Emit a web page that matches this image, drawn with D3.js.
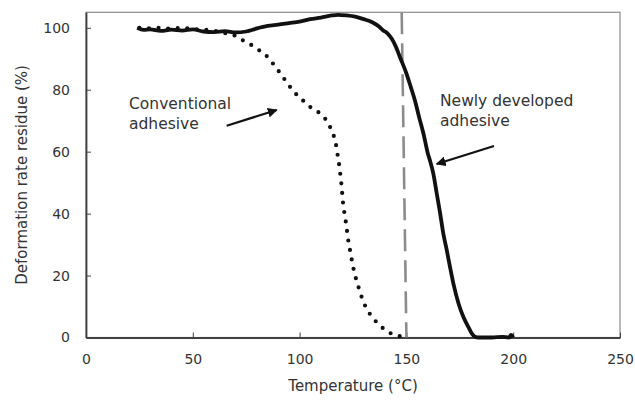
<!DOCTYPE html>
<html>
<head>
<meta charset="utf-8">
<script src="https://cdn.jsdelivr.net/npm/d3@7"></script>
<style>
  body { margin: 0; background: #fff; }
  text { font-family: "DejaVu Sans", Verdana, sans-serif; fill: #333; }
</style>
</head>
<body>
<div id="chart"></div>
<script>
// Newly developed adhesive (solid)
const newTemp = [24, 27, 30, 35, 40, 45, 50, 55, 60, 65, 70, 75, 80, 85, 90, 95, 100, 105, 110, 115, 118, 122, 126, 130, 134, 137, 139, 141, 143, 145, 147, 150, 152, 154, 156, 158, 160, 161, 162.6, 164.2, 165.7, 167.3, 168.9, 170.4, 172, 174.4, 176.7, 179, 181.3, 183.5, 190, 195, 198, 199, 200];
const newVal  = [100, 99.3, 99.5, 99, 99.4, 99.1, 99.5, 98.8, 98.6, 98.9, 98.5, 98.8, 99.8, 100.6, 101, 101.5, 102, 102.8, 103.3, 104, 104.2, 104, 103.6, 102.8, 101.8, 100.5, 99.2, 98.3, 96.6, 94, 90.5, 85.3, 81, 76.5, 71, 65.8, 59.5, 57.2, 52.9, 46.5, 40.5, 33.5, 28.2, 22.8, 17.4, 11, 6.6, 3.4, 0.7, 0, 0, 0.2, 0, 0.8, 0];

// Conventional adhesive (dotted)
const convTemp = [25, 30, 35, 40, 45, 50, 55, 60, 65, 69, 73, 77, 80.7, 84, 87, 89.7, 92.4, 95, 97.8, 101, 104.6, 108.3, 111.6, 114, 115.8, 117, 117.7, 118.4, 119, 119.5, 119.9, 120.3, 120.9, 121.6, 122.2, 122.8, 123.6, 124.4, 125.3, 126.4, 127.7, 129.1, 130.8, 133.1, 136.1, 139.2, 142.8, 147];
const convVal  = [100, 99.8, 100, 99.7, 100, 99.6, 99.4, 99, 98.3, 97.7, 96.1, 94.6, 92.9, 91.3, 88.9, 86.5, 83.9, 81.4, 79, 76.9, 74.6, 73, 71, 68.3, 65.5, 62.4, 59.4, 56.3, 53.1, 50, 46.9, 43.7, 40.6, 37.5, 34.4, 31.3, 28.2, 25.2, 22, 19, 16, 13, 10.1, 7.4, 4.9, 2.9, 1.3, 0.4];

// reference line at 150 °C (slightly slanted in the source)
const refTemp = [147.8, 150];
const refVal = [105, 0];

const xTicks = [0, 50, 100, 150, 200, 250];
const yTicks = [0, 20, 40, 60, 80, 100];

const width = 635, height = 401;
const margin = { top: 12.3, right: 15, bottom: 63.5, left: 86 };

const svg = d3.select("#chart").append("svg")
  .attr("width", width)
  .attr("height", height);

const x = d3.scaleLinear().domain([0, 250]).range([margin.left, width - margin.right]);
const y = d3.scaleLinear().domain([0, 105]).range([height - margin.bottom, margin.top]);

// frame (top/right lighter)
svg.append("rect")
  .attr("x", x(0)).attr("y", y(105))
  .attr("width", x(250) - x(0)).attr("height", y(0) - y(105))
  .attr("fill", "none").attr("stroke", "#8a8a8a").attr("stroke-width", 1.2);

// axes
const xAxis = svg.append("g")
  .attr("transform", `translate(0,${y(0)})`)
  .call(d3.axisBottom(x).tickValues(xTicks).tickSizeInner(-5).tickSizeOuter(0).tickPadding(17));
const yAxis = svg.append("g")
  .attr("transform", `translate(${x(0)},0)`)
  .call(d3.axisLeft(y).tickValues(yTicks).tickSizeInner(-5).tickSizeOuter(0).tickPadding(16));

[xAxis, yAxis].forEach(g => {
  g.select(".domain").attr("stroke", "#404040").attr("stroke-width", 1.8);
  g.selectAll(".tick line").attr("stroke", "#404040").attr("stroke-width", 1);
  g.selectAll(".tick text").attr("font-size", 14).attr("fill", "#333")
    .attr("font-family", "DejaVu Sans, Verdana, sans-serif");
});

const line = d3.line().x(d => x(d[0])).y(d => y(d[1])).curve(d3.curveMonotoneX);

// dashed reference
svg.append("path")
  .datum(d3.zip(refTemp, refVal))
  .attr("d", d3.line().x(d => x(d[0])).y(d => y(d[1])))
  .attr("fill", "none").attr("stroke", "#8c8c8c").attr("stroke-width", 2.6)
  .attr("stroke-dasharray", "22 9");

// conventional (dotted)
svg.append("path")
  .datum(d3.zip(convTemp, convVal))
  .attr("d", line)
  .attr("fill", "none").attr("stroke", "#111").attr("stroke-width", 4.2)
  .attr("stroke-linecap", "round")
  .attr("stroke-dasharray", "0 9.6");

// newly developed (solid)
svg.append("path")
  .datum(d3.zip(newTemp, newVal))
  .attr("d", line)
  .attr("fill", "none").attr("stroke", "#111").attr("stroke-width", 3.8)
  .attr("stroke-linejoin", "round");

// annotations
const notes = [
  { lines: ["Conventional", "adhesive"], x: 129, y: 109 },
  { lines: ["Newly developed", "adhesive"], x: 440, y: 106 }
];
notes.forEach(n => {
  const t = svg.append("text").attr("x", n.x).attr("y", n.y).attr("font-size", 15.5);
  n.lines.forEach((s, i) => t.append("tspan").attr("x", n.x).attr("dy", i ? 20 : 0).text(s));
});

svg.append("defs").append("marker")
  .attr("id", "ah").attr("viewBox", "0 0 10 10").attr("refX", 9).attr("refY", 5)
  .attr("markerWidth", 4.5).attr("markerHeight", 4.5).attr("orient", "auto")
  .append("path").attr("d", "M0,0L10,5L0,10z").attr("fill", "#111");

const arrows = [[226.7, 125.7, 276.7, 110], [494, 146, 436.7, 164]];
arrows.forEach(a => {
  svg.append("line")
    .attr("x1", a[0]).attr("y1", a[1]).attr("x2", a[2]).attr("y2", a[3])
    .attr("stroke", "#111").attr("stroke-width", 2.2)
    .attr("marker-end", "url(#ah)");
});

// axis titles
svg.append("text")
  .attr("x", (x(0) + x(250)) / 2).attr("y", 391)
  .attr("text-anchor", "middle").attr("font-size", 15)
  .text("Temperature (°C)");

svg.append("text")
  .attr("transform", `translate(27,${(y(0) + y(105)) / 2}) rotate(-90)`)
  .attr("text-anchor", "middle").attr("font-size", 15)
  .text("Deformation rate residue (%)");
</script>
</body>
</html>
